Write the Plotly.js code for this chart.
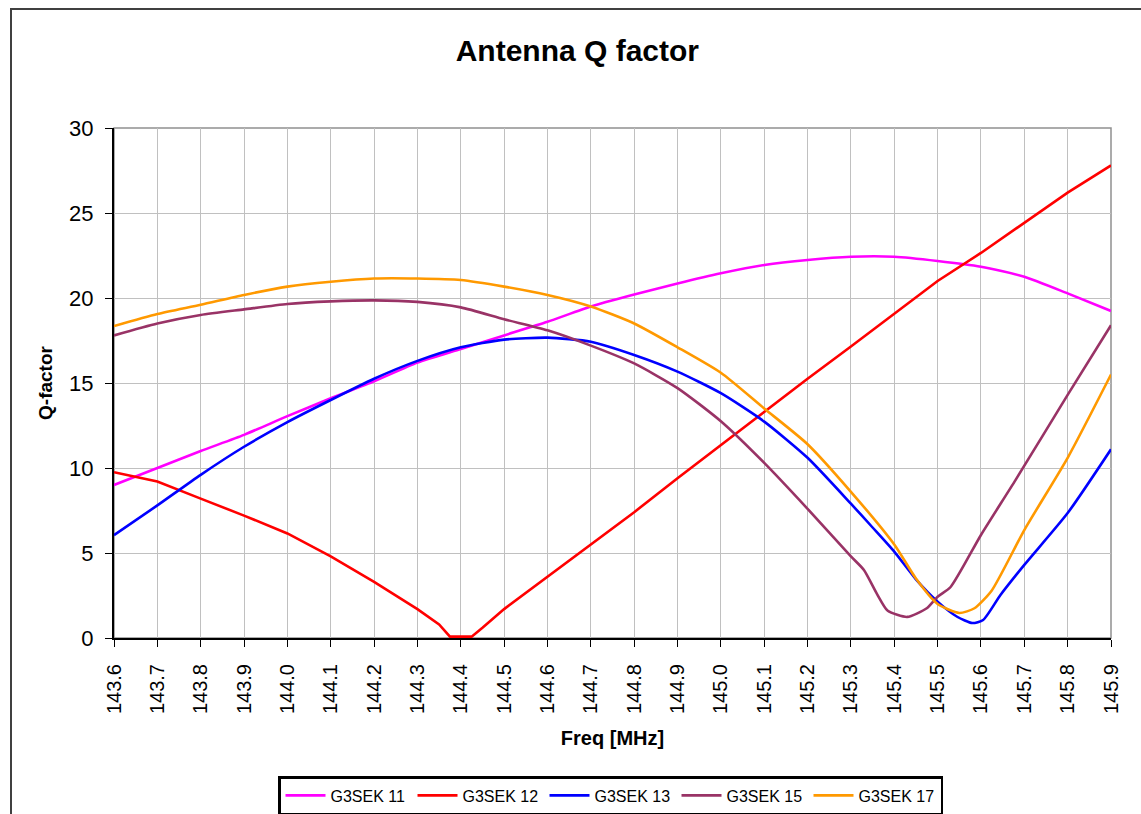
<!DOCTYPE html>
<html>
<head>
<meta charset="utf-8">
<script src="https://cdn.plot.ly/plotly-3.0.1.min.js"></script>
<style>
  html, body { margin: 0; padding: 0; background: #ffffff; overflow: hidden; }
  #chart { width: 1141px; height: 814px; position: relative; }
  #frame { position: absolute; left: 10px; top: 8px; width: 1200px; height: 900px;
           border-left: 2px solid #404040; border-top: 2px solid #404040; pointer-events: none; }
</style>
</head>
<body>
<div id="chart"></div>
<div id="frame"></div>
<script>
// ---- Data ----
const seriesNames = ["G3SEK 11", "G3SEK 12", "G3SEK 13", "G3SEK 15", "G3SEK 17"];
const seriesColors = ["#ff00ff", "#ff0000", "#0000ff", "#993366", "#ff9900"];

const xTickVals = [143.6,143.7,143.8,143.9,144.0,144.1,144.2,144.3,144.4,144.5,144.6,144.7,144.8,144.9,145.0,145.1,145.2,145.3,145.4,145.5,145.6,145.7,145.8,145.9];
const xTickText = ["143.6","143.7","143.8","143.9","144.0","144.1","144.2","144.3","144.4","144.5","144.6","144.7","144.8","144.9","145.0","145.1","145.2","145.3","145.4","145.5","145.6","145.7","145.8","145.9"];

const freq11 = [143.6,143.7,143.8,143.9,144.0,144.1,144.2,144.3,144.4,144.5,144.6,144.7,144.8,144.9,145.0,145.1,145.2,145.3,145.4,145.5,145.6,145.7,145.8,145.9];
const q11    = [9.0,10.0,11.0,11.95,13.05,14.1,15.1,16.2,17.0,17.8,18.6,19.5,20.2,20.85,21.45,21.94,22.24,22.43,22.43,22.18,21.84,21.25,20.27,19.24];

const freq12 = [143.6,143.7,143.8,143.9,144.0,144.1,144.2,144.3,144.35,144.375,144.425,144.45,144.5,144.6,144.7,144.8,144.9,145.0,145.1,145.2,145.3,145.4,145.5,145.6,145.7,145.8,145.9];
const q12    = [9.75,9.2,8.2,7.2,6.15,4.8,3.3,1.7,0.8,0.08,0.08,0.6,1.7,3.6,5.5,7.4,9.4,11.35,13.35,15.25,17.15,19.1,21.0,22.65,24.45,26.2,27.8];

const freq13 = [143.6,143.7,143.8,143.9,144.0,144.1,144.2,144.3,144.4,144.5,144.6,144.7,144.8,144.9,145.0,145.1,145.2,145.3,145.35,145.4,145.45,145.5,145.545,145.58,145.605,145.645,145.7,145.8,145.9];
const q13    = [6.05,7.8,9.6,11.25,12.7,14.0,15.25,16.3,17.1,17.55,17.67,17.43,16.65,15.67,14.4,12.73,10.6,7.9,6.5,5.08,3.45,2.14,1.25,0.88,1.06,2.53,4.3,7.35,11.1];

const freq15 = [143.6,143.7,143.8,143.9,144.0,144.1,144.2,144.3,144.4,144.5,144.6,144.7,144.8,144.9,145.0,145.1,145.2,145.3,145.33,145.36,145.385,145.43,145.475,145.5,145.53,145.6,145.68,145.8,145.9];
const q15    = [17.8,18.5,19.0,19.33,19.65,19.8,19.86,19.77,19.45,18.75,18.1,17.2,16.15,14.7,12.75,10.3,7.6,4.8,4.0,2.6,1.6,1.24,1.75,2.43,3.0,6.06,9.3,14.3,18.4];

const freq17 = [143.6,143.7,143.8,143.9,144.0,144.1,144.2,144.3,144.4,144.5,144.6,144.7,144.8,144.9,145.0,145.1,145.2,145.3,145.4,145.45,145.5,145.55,145.585,145.625,145.7,145.8,145.9];
const q17    = [18.35,19.06,19.6,20.18,20.67,20.96,21.15,21.15,21.06,20.67,20.18,19.5,18.5,17.1,15.6,13.5,11.4,8.6,5.5,3.5,2.0,1.47,1.75,2.8,6.35,10.6,15.5];

const xs = [freq11, freq12, freq13, freq15, freq17];
const ys = [q11, q12, q13, q15, q17];
const shapesPerSeries = ["spline", "linear", "spline", "spline", "spline"];

const traces = seriesNames.map((name, i) => ({
  type: "scatter",
  mode: "lines",
  name: name,
  x: xs[i],
  y: ys[i],
  line: { color: seriesColors[i], width: 2.6, shape: shapesPerSeries[i], smoothing: 0.6 },
  hoverinfo: "x+y+name"
}));

const layout = {
  width: 1141,
  height: 814,
  paper_bgcolor: "#ffffff",
  plot_bgcolor: "#ffffff",
  margin: { l: 114, r: 30, t: 128, b: 176, pad: 0, autoexpand: false },
  font: { family: "Arial, 'Liberation Sans', sans-serif", color: "#000000" },
  title: {
    text: "<b>Antenna Q factor</b>",
    font: { size: 30, family: "Arial, 'Liberation Sans', sans-serif", color: "#000000" },
    xref: "container", yref: "container",
    x: 0.506, y: 0.938, xanchor: "center", yanchor: "middle"
  },
  xaxis: {
    range: [143.6, 145.9],
    tickmode: "array",
    tickvals: xTickVals,
    ticktext: xTickText,
    tickangle: -90,
    ticks: "outside",
    ticklen: 7,
    tickcolor: "#000000",
    tickfont: { size: 20 },
    ticklabelstandoff: 9,
    showline: true,
    linecolor: "#000000",
    linewidth: 2,
    layer: "below traces",
    showgrid: true,
    gridcolor: "#c0c0c0",
    gridwidth: 1,
    zeroline: false,
    automargin: false,
    title: { text: "<b>Freq [MHz]</b>", font: { size: 20 }, standoff: 18 }
  },
  yaxis: {
    range: [0, 30],
    tickmode: "linear",
    tick0: 0,
    dtick: 5,
    ticks: "outside",
    ticklen: 7,
    tickcolor: "#000000",
    tickfont: { size: 22 },
    ticklabelstandoff: 7,
    showline: true,
    linecolor: "#000000",
    linewidth: 2,
    layer: "below traces",
    showgrid: true,
    gridcolor: "#c0c0c0",
    gridwidth: 1,
    zeroline: false,
    automargin: false,
    title: { text: "<b>Q-factor</b>", font: { size: 19 }, standoff: 11 }
  },
  shapes: [{
    type: "rect", xref: "paper", yref: "paper",
    x0: 0, x1: 1, y0: 0, y1: 1,
    line: { color: "#909090", width: 1.5 },
    layer: "below"
  }],
  showlegend: true,
  legend: {
    orientation: "h",
    xref: "paper", yref: "paper",
    x: 0.1645, y: -0.2706, xanchor: "left", yanchor: "top",
    bgcolor: "#ffffff",
    bordercolor: "#000000",
    borderwidth: 2.5,
    font: { size: 16, family: "Arial, 'Liberation Sans', sans-serif" },
    entrywidth: 77,
    entrywidthmode: "pixels",
    itemwidth: 40,
    tracegroupgap: 0
  }
};

Plotly.newPlot("chart", traces, layout, { displayModeBar: false, staticPlot: false });
</script>
</body>
</html>
